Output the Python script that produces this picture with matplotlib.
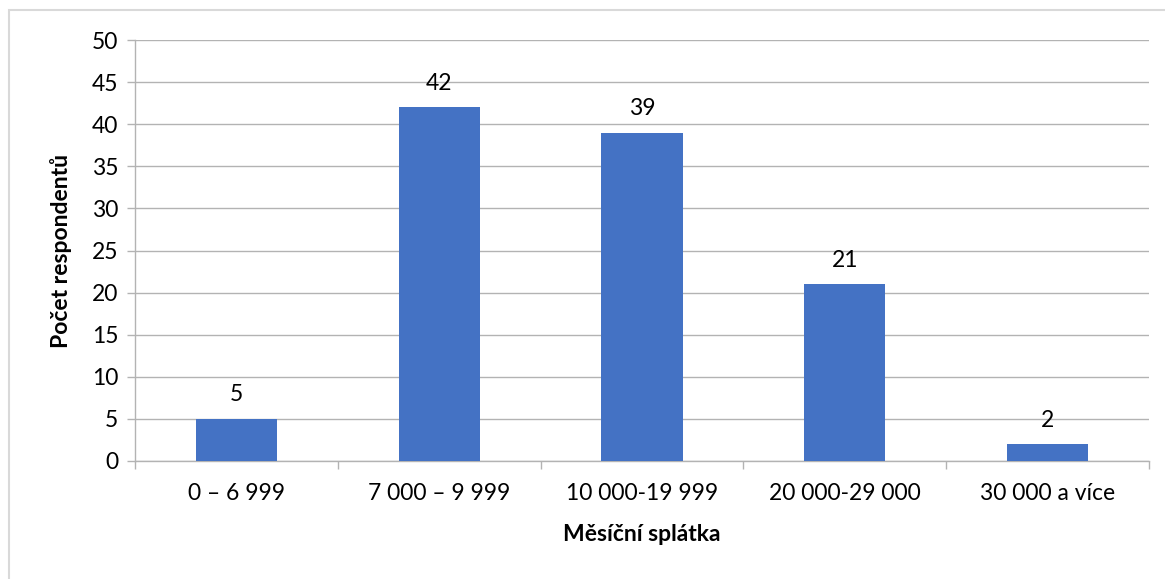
import matplotlib.pyplot as plt
from matplotlib.patches import Rectangle
import numpy as np

categories = ["0 – 6 999", "7 000 – 9 999", "10 000-19 999", "20 000-29 000", "30 000 a více"]
counts = [5, 42, 39, 21, 2]
yticks = [0, 5, 10, 15, 20, 25, 30, 35, 40, 45, 50]

plt.rcParams['font.family'] = ['Lato', 'DejaVu Sans']
grid_col = '#b3b3b3'

fig = plt.figure(figsize=(11.65, 5.79), dpi=100)
# light frame round the whole chart
fig.patches.append(Rectangle((9 / 1165, -0.1), 1.2, 1 - 10 / 579 + 0.1,
                             transform=fig.transFigure, fill=False,
                             edgecolor='#d9d9d9', linewidth=1.5))
ax = fig.add_axes([0.1159, 0.2038, 0.8704, 0.7271])

x = np.arange(len(categories))
bars = ax.bar(x, counts, width=0.4, color='#4472C4', zorder=3)
for b, v in zip(bars, counts):
    ax.text(b.get_x() + b.get_width() / 2, v + 1.6, str(v), ha='center', va='bottom',
            fontsize=16.5, color='black')

ax.set_xlim(-0.5, len(categories) - 0.5)
ax.set_ylim(0, 50)
ax.set_yticks(yticks)
ax.yaxis.grid(True, color=grid_col, linewidth=1, zorder=0)
ax.set_xticks(x)
ax.set_xticklabels(categories)
ax.set_xticks(np.arange(-0.5, len(categories)), minor=True)
ax.tick_params(axis='x', which='major', length=0, pad=16, labelsize=16.5)
ax.tick_params(axis='x', which='minor', length=6, color=grid_col, width=1)
ax.tick_params(axis='y', length=6, color=grid_col, width=1, labelsize=16.5, pad=6)

for s in ['top', 'right']:
    ax.spines[s].set_visible(False)
for s in ['left', 'bottom']:
    ax.spines[s].set_color(grid_col)
    ax.spines[s].set_linewidth(1)

ax.set_xlabel('Měsíční splátka', fontsize=16.5, fontweight='bold', labelpad=14)
ax.set_ylabel('Počet respondentů', fontsize=16.5, fontweight='bold', labelpad=14)

fig.savefig('out.png', dpi=100)
